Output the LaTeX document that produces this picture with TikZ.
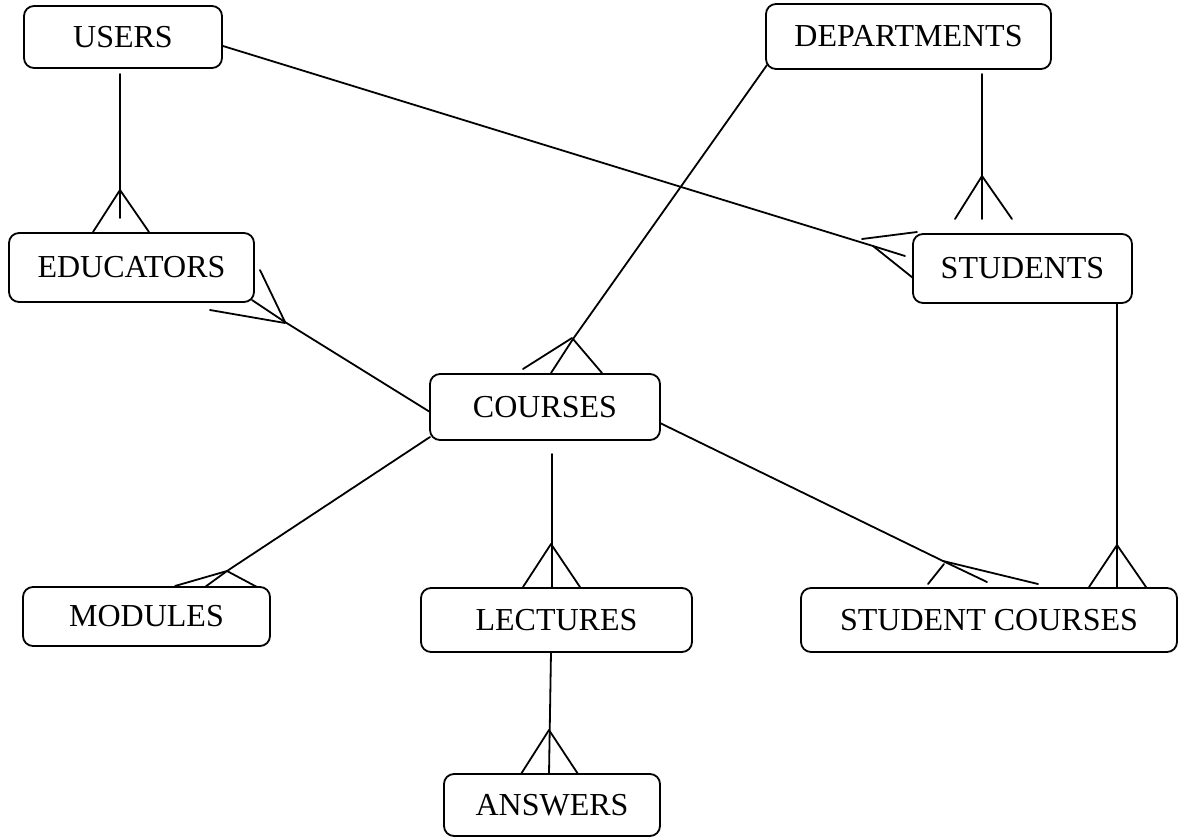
\documentclass[tikz,border=0pt]{standalone}
\usepackage{fontspec}
\setmainfont{Liberation Serif}
\begin{document}
\begin{tikzpicture}[x=1pt,y=-1pt,line width=1.8pt,
  entity/.style={draw, rounded corners=10pt, inner sep=0pt,
    font=\fontsize{32}{38}\selectfont},
  link/.style={line width=1.8pt, line cap=round, line join=round}]
\useasboundingbox (0,0) rectangle (1184,838);

% ---- entities ----
\node[entity, minimum width=198pt, minimum height=62pt] (users)       at (123,37)    {USERS};
\node[entity, minimum width=285pt, minimum height=65pt] (departments) at (908.5,36.5) {DEPARTMENTS};
\node[entity, minimum width=245pt, minimum height=69pt] (educators)   at (131.5,267.5) {EDUCATORS};
\node[entity, minimum width=219pt, minimum height=69pt] (students)    at (1022.5,268.5) {STUDENTS};
\node[entity, minimum width=230pt, minimum height=66pt] (courses)     at (545,407)   {COURSES};
\node[entity, minimum width=247pt, minimum height=59pt] (modules)     at (146.5,616.5) {MODULES};
\node[entity, minimum width=271pt, minimum height=64pt] (lectures)    at (556.5,620) {LECTURES};
\node[entity, minimum width=376pt, minimum height=64pt] (stcourses)   at (989,620)   {STUDENT COURSES};
\node[entity, minimum width=216pt, minimum height=62pt] (answers)     at (552,805)   {ANSWERS};

% ---- connector end points and crow's-foot apexes ----
\coordinate (ueA) at (120,74);   \coordinate (ueB) at (120,218);  \coordinate (ueF) at (120,190);
\coordinate (usA) at (223,46);   \coordinate (usF) at (873,246);
\coordinate (dsA) at (982,74);   \coordinate (dsB) at (982,219);  \coordinate (dsF) at (982,176);
\coordinate (dcA) at (767,65);   \coordinate (dcF) at (573,339);
\coordinate (ecA) at (430,412);  \coordinate (ecF) at (285,322);
\coordinate (cmA) at (430,437);  \coordinate (cmF) at (227,571);
\coordinate (clA) at (552,454);  \coordinate (clB) at (552,587);  \coordinate (clF) at (551,544);
\coordinate (laA) at (551,652);  \coordinate (laB) at (549,774);  \coordinate (laF) at (549,730);
\coordinate (csA) at (660,423);  \coordinate (csF) at (943,561);
\coordinate (ssA) at (1117,303); \coordinate (ssB) at (1117,587); \coordinate (ssF) at (1117,545);

% USERS -- EDUCATORS
\draw[link] (ueA) -- (ueB);
\draw[link] (93,232) -- (ueF) -- (149,232);

% USERS -- STUDENTS
\draw[link] (usA) -- (usF) -- (905,256);
\draw[link] (usF) -- (913,278);
\draw[link] (862,239) -- (917,232);

% DEPARTMENTS -- STUDENTS
\draw[link] (dsA) -- (dsB);
\draw[link] (955,219) -- (dsF) -- (1012,219);

% DEPARTMENTS -- COURSES
\draw[link] (dcA) -- (dcF) -- (551,373);
\draw[link] (dcF) -- (602,373);
\draw[link] (523,369) -- (572,338);

% EDUCATORS -- COURSES
\draw[link] (ecA) -- (ecF) -- (252,300);
\draw[link] (ecF) -- (260,270);
\draw[link] (210,310) -- (285,323);

% COURSES -- MODULES
\draw[link] (cmA) -- (cmF) -- (205,587);
\draw[link] (cmF) -- (257,587);
\draw[link] (175,586) -- (cmF);

% COURSES -- LECTURES
\draw[link] (clA) -- (clB);
\draw[link] (523,587) -- (clF) -- (580,587);

% LECTURES -- ANSWERS
\draw[link] (laA) -- (laB);
\draw[link] (521,774) -- (laF) -- (578,774);

% COURSES -- STUDENT COURSES
\draw[link] (csA) -- (csF) -- (1038,584);
\draw[link] (csF) -- (987,582);
\draw[link] (944,564) -- (928,584);

% STUDENTS -- STUDENT COURSES
\draw[link] (ssA) -- (ssB);
\draw[link] (1089,587) -- (ssF) -- (1146,587);
\end{tikzpicture}
\end{document}
